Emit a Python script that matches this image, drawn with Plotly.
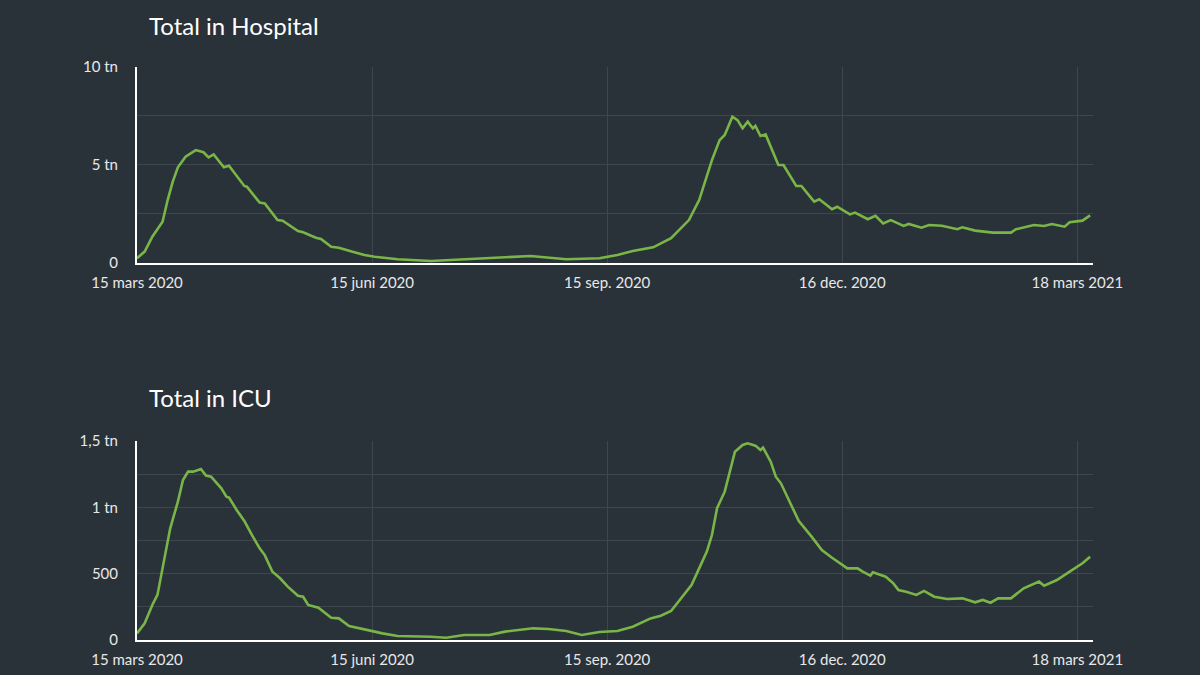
import plotly.graph_objects as go

# ---------------- data ----------------
hosp_dates = [
    "2020-03-15", "2020-03-18", "2020-03-21", "2020-03-25", "2020-03-27", "2020-03-29",
    "2020-03-31", "2020-04-03", "2020-04-07", "2020-04-10", "2020-04-12", "2020-04-14",
    "2020-04-18", "2020-04-20", "2020-04-26", "2020-04-27", "2020-05-02", "2020-05-04",
    "2020-05-09", "2020-05-11", "2020-05-17", "2020-05-19", "2020-05-24", "2020-05-26",
    "2020-05-30", "2020-06-02", "2020-06-07", "2020-06-12", "2020-06-16", "2020-06-25",
    "2020-07-08", "2020-07-21", "2020-08-03", "2020-08-16", "2020-08-30", "2020-09-12",
    "2020-09-19", "2020-09-25", "2020-10-03", "2020-10-10", "2020-10-17", "2020-10-21",
    "2020-10-26", "2020-10-29", "2020-10-31", "2020-11-03", "2020-11-05", "2020-11-07",
    "2020-11-09", "2020-11-11", "2020-11-12", "2020-11-14", "2020-11-16", "2020-11-21",
    "2020-11-23", "2020-11-28", "2020-11-30", "2020-12-05", "2020-12-07", "2020-12-12",
    "2020-12-14", "2020-12-19", "2020-12-21", "2020-12-26", "2020-12-29", "2021-01-01",
    "2021-01-04", "2021-01-09", "2021-01-11", "2021-01-16", "2021-01-19", "2021-01-24",
    "2021-01-30", "2021-02-01", "2021-02-06", "2021-02-13", "2021-02-20", "2021-02-22",
    "2021-03-01", "2021-03-05", "2021-03-08", "2021-03-13", "2021-03-15", "2021-03-20",
    "2021-03-23",
]
hosp_values = [
    240, 580, 1340, 2100, 3210, 4150,
    4880, 5420, 5760, 5650, 5390, 5540,
    4880, 4960, 3930, 3890, 3080, 3040,
    2190, 2160, 1630, 1570, 1290, 1220,
    830, 780, 580, 410, 320, 190,
    100, 190, 290, 355, 190, 240,
    410, 610, 800, 1260, 2190, 3210,
    5250, 6270, 6530, 7460, 7290, 6870,
    7210, 6870, 6990, 6480, 6560, 5000,
    5000, 3930, 3930, 3130, 3250, 2740,
    2870, 2480, 2570, 2230, 2410, 2020,
    2190, 1890, 1990, 1800, 1940, 1900,
    1720, 1820, 1650, 1550, 1550, 1720,
    1940, 1890, 1990, 1850, 2080, 2160,
    2430,
]

icu_dates = [
    "2020-03-15", "2020-03-18", "2020-03-21", "2020-03-23", "2020-03-24", "2020-03-26",
    "2020-03-28", "2020-03-31", "2020-04-02", "2020-04-04", "2020-04-06", "2020-04-09",
    "2020-04-11", "2020-04-13", "2020-04-17", "2020-04-19", "2020-04-20", "2020-04-23",
    "2020-04-26", "2020-04-29", "2020-05-02", "2020-05-04", "2020-05-07", "2020-05-10",
    "2020-05-13", "2020-05-17", "2020-05-19", "2020-05-21", "2020-05-25", "2020-05-30",
    "2020-06-02", "2020-06-06", "2020-06-12", "2020-06-16", "2020-06-19", "2020-06-25",
    "2020-07-08", "2020-07-14", "2020-07-21", "2020-07-31", "2020-08-06", "2020-08-17",
    "2020-08-23", "2020-08-30", "2020-09-05", "2020-09-12", "2020-09-19", "2020-09-25",
    "2020-10-02", "2020-10-06", "2020-10-10", "2020-10-14", "2020-10-18", "2020-10-21",
    "2020-10-24", "2020-10-26", "2020-10-28", "2020-10-31", "2020-11-02", "2020-11-04",
    "2020-11-07", "2020-11-09", "2020-11-12", "2020-11-14", "2020-11-15", "2020-11-18",
    "2020-11-20", "2020-11-22", "2020-11-26", "2020-11-29", "2020-12-04", "2020-12-08",
    "2020-12-12", "2020-12-18", "2020-12-22", "2020-12-24", "2020-12-27", "2020-12-28",
    "2021-01-02", "2021-01-05", "2021-01-07", "2021-01-10", "2021-01-14", "2021-01-17",
    "2021-01-21", "2021-01-26", "2021-02-01", "2021-02-06", "2021-02-09", "2021-02-12",
    "2021-02-15", "2021-02-20", "2021-02-25", "2021-03-03", "2021-03-05", "2021-03-10",
    "2021-03-15", "2021-03-20", "2021-03-23",
]
icu_values = [
    50, 126, 264, 340, 440, 640,
    842, 1043, 1206, 1269, 1269, 1289,
    1239, 1231, 1143, 1080, 1073, 980,
    897, 791, 691, 640, 515, 465,
    402, 334, 326, 264, 244, 168,
    163, 106, 83, 63, 50, 30,
    25, 17, 38, 38, 63, 88,
    83, 68, 38, 60, 68, 100,
    163, 183, 219, 314, 415, 540,
    666, 791, 993, 1118, 1269, 1419,
    1470, 1483, 1465, 1432, 1450, 1344,
    1231, 1181, 1018, 897, 779, 678,
    620, 540, 540, 515, 485, 510,
    477, 427, 377, 364, 340, 370,
    326, 309, 314, 284, 302, 281,
    314, 314, 390, 440, 409, 452,
    515, 578, 628,
]

x_tick_dates = ["2020-03-15", "2020-06-15", "2020-09-15", "2020-12-16", "2021-03-18"]
x_tick_labels = ["15 mars 2020", "15 juni 2020", "15 sep. 2020", "16 dec. 2020", "18 mars 2021"]

hosp_ticks = [0, 2500, 5000, 7500, 10000]
hosp_tick_labels = ["0", "", "5 tn", "", "10 tn"]
icu_ticks = [0, 250, 500, 750, 1000, 1250, 1500]
icu_tick_labels = ["0", "", "500", "", "1 tn", "", "1,5 tn"]

titles = ["Total in Hospital", "Total in ICU"]

# ---------------- styling ----------------
BG = "#2a3239"
GRID = "#3f474e"
LINE = "#7ab547"
TEXT = "#e8e8e8"
FONT = "Lato"

x_range = ["2020-03-15", "2021-03-24 03:00"]

fig = go.Figure()
fig.add_trace(go.Scatter(x=hosp_dates, y=hosp_values, mode="lines",
                         line=dict(color=LINE, width=2.6), xaxis="x", yaxis="y",
                         showlegend=False, hoverinfo="x+y"))
fig.add_trace(go.Scatter(x=icu_dates, y=icu_values, mode="lines",
                         line=dict(color=LINE, width=2.6), xaxis="x2", yaxis="y2",
                         showlegend=False, hoverinfo="x+y"))

xaxis_common = dict(
    type="date", range=x_range, tickvals=x_tick_dates, ticktext=x_tick_labels,
    showgrid=True, gridcolor=GRID, gridwidth=1,
    showline=True, linecolor="#ffffff", linewidth=2,
    ticks="", ticklabelstandoff=5, automargin=False,
    tickfont=dict(family=FONT, size=15, color=TEXT),
    zeroline=False, fixedrange=True,
)
yaxis_common = dict(
    showgrid=True, gridcolor=GRID, gridwidth=1,
    showline=True, linecolor="#ffffff", linewidth=2,
    ticks="", ticklabelstandoff=14, automargin=False,
    tickfont=dict(family=FONT, size=15, color=TEXT),
    zeroline=False, fixedrange=True,
)

top_domain = [0.658, 1.0]
bot_domain = [0.0, 0.3473]

fig.update_layout(
    width=1200, height=675,
    paper_bgcolor=BG, plot_bgcolor=BG,
    margin=dict(l=137, r=107, t=67, b=35, autoexpand=False),
    font=dict(family=FONT, color=TEXT),
    xaxis=dict(**xaxis_common, domain=[0, 1], anchor="y"),
    yaxis=dict(**yaxis_common, domain=top_domain, anchor="x",
               range=[0, 10000], tickvals=hosp_ticks, ticktext=hosp_tick_labels),
    xaxis2=dict(**xaxis_common, domain=[0, 1], anchor="y2"),
    yaxis2=dict(**yaxis_common, domain=bot_domain, anchor="x2",
                range=[0, 1500], tickvals=icu_ticks, ticktext=icu_tick_labels),
    annotations=[
        dict(text=titles[0], xref="paper", yref="paper", x=0.0105, y=1.072,
             xanchor="left", yanchor="middle", showarrow=False,
             font=dict(family=FONT, size=24, color="#ffffff")),
        dict(text=titles[1], xref="paper", yref="paper", x=0.0105, y=0.4226,
             xanchor="left", yanchor="middle", showarrow=False,
             font=dict(family=FONT, size=24, color="#ffffff")),
    ],
)

fig.write_html("out.html")
